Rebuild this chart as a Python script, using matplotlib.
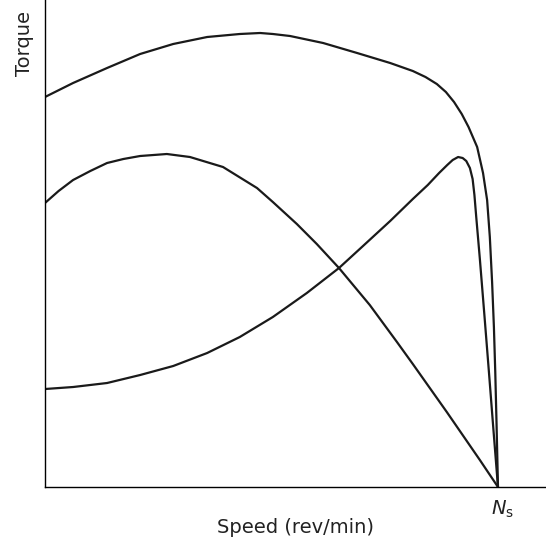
import matplotlib.pyplot as plt

# speed as % of synchronous speed Ns, torque in arbitrary units
speed_a = [0, 3.0, 6.2, 10.0, 13.7, 17.3, 21.0, 26.9, 32.0, 39.3, 46.8, 50.3, 55.6, 60.0, 64.9,
           71.7, 77.7, 81.2, 88.7, 96.0, 100]
torque_a = [284, 296, 307, 316, 324, 328, 331, 333, 330, 320, 299, 285, 263, 243, 219,
            182, 145, 123, 75, 27, 0]

speed_b = [0, 6.2, 13.7, 21.0, 28.3, 35.8, 43.0, 50.3, 57.8, 64.9, 70.2, 76.2,
           81.2, 84.5, 87.0, 88.8, 90.0, 91.2, 92.2, 93.0, 93.8, 94.4, 94.8,
           95.2, 96.0, 97.0, 98.0, 99.0, 100]
torque_b = [98, 100, 104, 112, 121, 134, 150, 170, 194, 219, 241, 266,
            288, 302, 314, 322, 327, 330, 329, 326, 319, 308, 292,
            270, 228, 172, 115, 57, 0]

speed_c = [0, 6.2, 13.7, 21.0, 28.3, 35.8, 43.0, 47.5, 50.3, 54.1, 61.4, 68.9,
           76.2, 81.2, 84.0, 86.5, 88.5, 90.3, 92.0, 93.5, 95.4, 96.7, 97.6,
           98.2, 98.7, 99.1, 99.4, 99.7, 100]
torque_c = [390, 404, 419, 433, 443, 450, 453, 454, 453, 451, 444, 434,
            424, 416, 410, 403, 395, 385, 373, 360, 340, 314, 287,
            250, 205, 160, 115, 60, 0]

fig = plt.figure(figsize=(5.46, 5.43), dpi=100)
ax = fig.add_axes([0.0824, 0.1031, 0.9176, 0.8969])

for xs, ys in [(speed_a, torque_a), (speed_b, torque_b), (speed_c, torque_c)]:
    ax.plot(xs, ys, color='#1a1a1a', lw=1.6, solid_joinstyle='round', solid_capstyle='round')

ax.set_xlim(0, 110.6)
ax.set_ylim(0, 487)
ax.spines['top'].set_visible(False)
ax.spines['right'].set_visible(False)
ax.spines['left'].set_linewidth(1.0)
ax.spines['bottom'].set_linewidth(1.0)
ax.set_xticks([])
ax.set_yticks([])

fig.text(0.542, 0.028, 'Speed (rev/min)', ha='center', va='center', fontsize=14, color='#222222')
fig.text(0.044, 0.919, 'Torque', ha='center', va='center', rotation=90, fontsize=14, color='#222222')
ax.text(100.9, -12, r'$N_\mathrm{s}$', ha='center', va='top', fontsize=14, color='#222222')

fig.savefig('out.png')
